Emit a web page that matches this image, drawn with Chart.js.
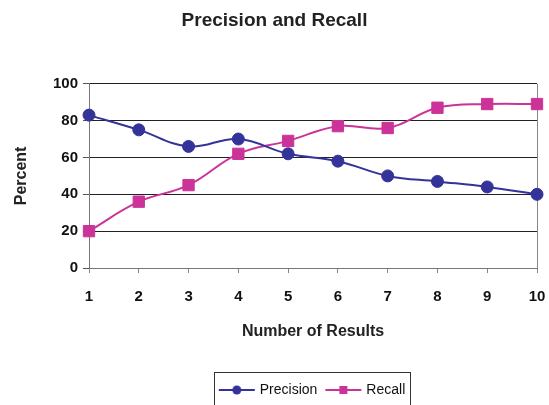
<!DOCTYPE html>
<html>
<head>
<meta charset="utf-8">
<script src="https://cdn.jsdelivr.net/npm/chart.js@4/dist/chart.umd.min.js"></script>
<style>
html,body{margin:0;padding:0;background:#fff;}
#c{display:block;}
</style>
</head>
<body>
<canvas id="c" width="549" height="405"></canvas>
<script>
const categories = ['1','2','3','4','5','6','7','8','9','10'];
const precision = [83, 75, 66, 70, 62, 58, 50, 47, 44, 40];
const recall = [20, 36, 45, 62, 69, 77, 76, 87, 89, 89];
const yTicks = [0, 20, 40, 60, 80, 100];

const FONT = "'Liberation Sans', Arial, Helvetica, sans-serif";
const PREC_COLOR = '#333399';
const REC_COLOR = '#CC3399';

function legendImage(color, shape) {
  const cv = document.createElement('canvas');
  cv.width = 38; cv.height = 14;
  const g = cv.getContext('2d');
  g.strokeStyle = color; g.fillStyle = color; g.lineWidth = 2;
  g.beginPath(); g.moveTo(1, 7); g.lineTo(37, 7); g.stroke();
  if (shape === 'circle') {
    g.beginPath(); g.arc(19, 7, 4.5, 0, Math.PI * 2); g.fill();
  } else {
    g.fillRect(15, 3, 8, 8);
  }
  return cv;
}
const legendImgs = [legendImage(PREC_COLOR, 'circle'), legendImage(REC_COLOR, 'rect')];

const extras = {
  id: 'extras',
  beforeDatasetsDraw(chart) {
    const {ctx, chartArea} = chart;
    ctx.save();
    ctx.strokeStyle = '#888';
    ctx.lineWidth = 1;
    ctx.beginPath();
    ctx.moveTo(Math.round(chartArea.right) + 0.5, chartArea.top);
    ctx.lineTo(Math.round(chartArea.right) + 0.5, chartArea.bottom);
    ctx.stroke();
    ctx.restore();
  },
  afterDraw(chart) {
    const lg = chart.legend;
    if (!lg || !lg.legendHitBoxes || !lg.legendHitBoxes.length) return;
    const hb = lg.legendHitBoxes;
    let minX = Infinity, maxX = -Infinity, cy = 0;
    hb.forEach(h => { minX = Math.min(minX, h.left); maxX = Math.max(maxX, h.left + h.width); cy = h.top + h.height / 2; });
    const {ctx} = chart;
    ctx.save();
    ctx.strokeStyle = '#333';
    ctx.lineWidth = 1;
    ctx.strokeRect(Math.round(minX - 7) + 0.5, Math.round(cy - 18) + 0.5, Math.round(maxX - minX + 12), 36);
    ctx.restore();
  }
};

new Chart(document.getElementById('c'), {
  type: 'line',
  data: {
    labels: categories,
    datasets: [
      {
        label: 'Precision',
        data: precision,
        borderColor: PREC_COLOR,
        backgroundColor: PREC_COLOR,
        borderWidth: 2,
        pointStyle: 'circle',
        pointRadius: 6,
        pointBorderWidth: 1,
        tension: 0.4,
        fill: false
      },
      {
        label: 'Recall',
        data: recall,
        borderColor: REC_COLOR,
        backgroundColor: REC_COLOR,
        borderWidth: 2,
        pointStyle: 'rect',
        pointRadius: 8,
        pointBorderWidth: 1,
        tension: 0.4,
        fill: false
      }
    ]
  },
  options: {
    responsive: false,
    animation: false,
    layout: {padding: {left: 0, right: 0, top: 0, bottom: -2}},
    plugins: {
      tooltip: {enabled: false},
      title: {
        display: true,
        text: 'Precision and Recall',
        color: '#222',
        font: {family: FONT, size: 19, weight: 'bold'},
        padding: {top: 9, bottom: 52}
      },
      legend: {
        position: 'bottom',
        fullSize: false,
        labels: {
          usePointStyle: true,
          pointStyleWidth: 32,
          color: '#111',
          font: {family: FONT, size: 14},
          padding: 10,
          generateLabels(chart) {
            const items = Chart.defaults.plugins.legend.labels.generateLabels(chart);
            items.forEach((it, i) => { it.pointStyle = legendImgs[i]; });
            return items;
          }
        }
      }
    },
    scales: {
      x: {
        type: 'category',
        offset: false,
        grid: {drawOnChartArea: false, drawTicks: true, tickLength: 5, color: '#888'},
        border: {color: '#777', width: 1},
        ticks: {color: '#111', font: {family: FONT, size: 15, weight: 'bold'}, padding: 15, maxRotation: 0},
        title: {
          display: true,
          text: 'Number of Results',
          color: '#222',
          font: {family: FONT, size: 16, weight: 'bold'},
          padding: {top: 0, bottom: 32}
        },
        afterFit(scale) { scale.height = 105; scale.paddingRight = 12; scale.paddingLeft = 0; }
      },
      y: {
        min: 0,
        max: 100,
        afterBuildTicks(scale) { scale.ticks = yTicks.map(v => ({value: v})); },
        grid: {color: '#222', lineWidth: 1, tickLength: 6, tickColor: '#555'},
        border: {color: '#777', width: 1},
        ticks: {color: '#111', font: {family: FONT, size: 15, weight: 'bold'}, padding: 5},
        title: {
          display: true,
          text: 'Percent',
          color: '#222',
          font: {family: FONT, size: 16, weight: 'bold'},
          padding: {top: 12, bottom: 0}
        },
        afterFit(scale) { scale.width = 89; }
      }
    }
  },
  plugins: [extras]
});
</script>
</body>
</html>
